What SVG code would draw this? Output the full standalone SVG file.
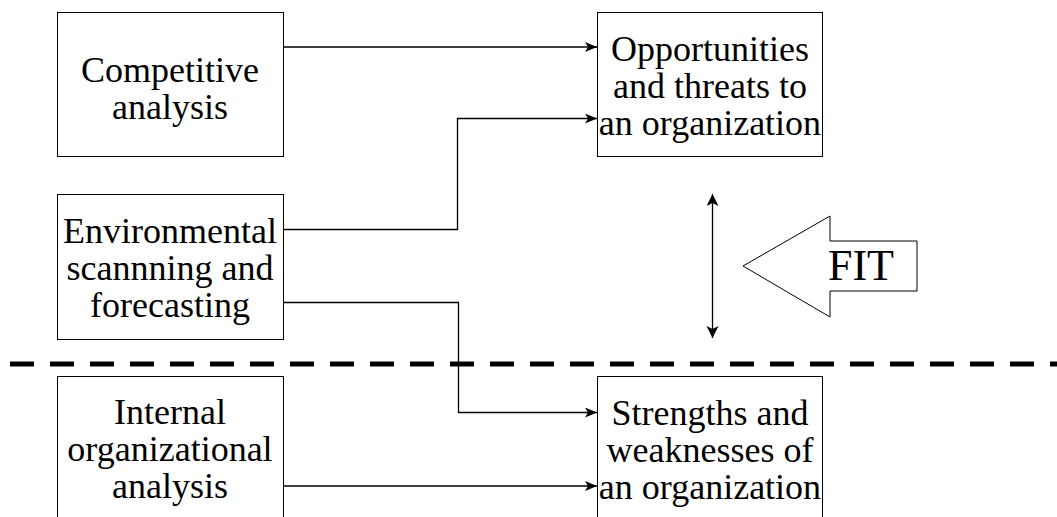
<svg xmlns="http://www.w3.org/2000/svg" width="1057" height="517" viewBox="0 0 1057 517">
<style>
.box{fill:#fff;stroke:#000;stroke-width:1}
.t{font-family:"Liberation Serif","Times New Roman",serif;font-size:36px;fill:#000;text-anchor:middle}
.c{fill:none;stroke:#000;stroke-width:1.3}
</style>
<defs>
<marker id="ah" markerUnits="userSpaceOnUse" markerWidth="14" markerHeight="12" refX="12" refY="5" orient="auto">
<path d="M0,0 L12,5 L0,10 L3,5 Z" fill="#000"/>
</marker>
<marker id="ah2" markerUnits="userSpaceOnUse" markerWidth="14" markerHeight="14" refX="12" refY="6" orient="auto-start-reverse">
<path d="M0,0 L12,6 L0,12 L3,6 Z" fill="#000"/>
</marker>
</defs>
<rect width="1057" height="517" fill="#fff"/>
<line x1="10" y1="364" x2="1057" y2="364" stroke="#000" stroke-width="5" stroke-dasharray="24 16"/>
<g id="competitive">
<rect class="box" x="57.5" y="12.5" width="226" height="144"/>
<text class="t" x="170" y="82">Competitive</text>
<text class="t" x="170" y="119">analysis</text>
</g>
<g id="opportunities">
<rect class="box" x="597.5" y="12.5" width="225" height="144"/>
<text class="t" x="710" y="61">Opportunities</text>
<text class="t" x="710" y="98">and threats to</text>
<text class="t" x="710" y="135">an organization</text>
</g>
<g id="environmental">
<rect class="box" x="57.5" y="194.5" width="226" height="145"/>
<text class="t" x="170" y="243">Environmental</text>
<text class="t" x="170" y="280">scannning and</text>
<text class="t" x="170" y="317">forecasting</text>
</g>
<g id="internal">
<rect class="box" x="57.5" y="376.5" width="226" height="145"/>
<text class="t" x="170" y="424">Internal</text>
<text class="t" x="170" y="461">organizational</text>
<text class="t" x="170" y="498">analysis</text>
</g>
<g id="strengths">
<rect class="box" x="597.5" y="376.5" width="225" height="145"/>
<text class="t" x="710" y="425">Strengths and</text>
<text class="t" x="710" y="462">weaknesses of</text>
<text class="t" x="710" y="499">an organization</text>
</g>
<g id="fit">
<polygon points="743,266 830,216 830,241 917,241 917,291 830,291 830,317" fill="#fff" stroke="#000" stroke-width="1"/>
<text x="861" y="280" font-family="Liberation Serif, Times New Roman, serif" font-size="44" text-anchor="middle">FIT</text>
</g>
<g id="connectors">
<line class="c" x1="283.5" y1="47" x2="597" y2="47" marker-end="url(#ah)"/>
<polyline class="c" points="283.5,229.5 457.5,229.5 457.5,118.5 597,118.5" marker-end="url(#ah)"/>
<polyline class="c" points="283.5,302.5 458.5,302.5 458.5,412.5 597,412.5" marker-end="url(#ah)"/>
<line class="c" x1="283.5" y1="486" x2="597" y2="486" marker-end="url(#ah)"/>
<line class="c" x1="712.5" y1="194" x2="712.5" y2="338" marker-start="url(#ah2)" marker-end="url(#ah2)"/>
</g>
</svg>
